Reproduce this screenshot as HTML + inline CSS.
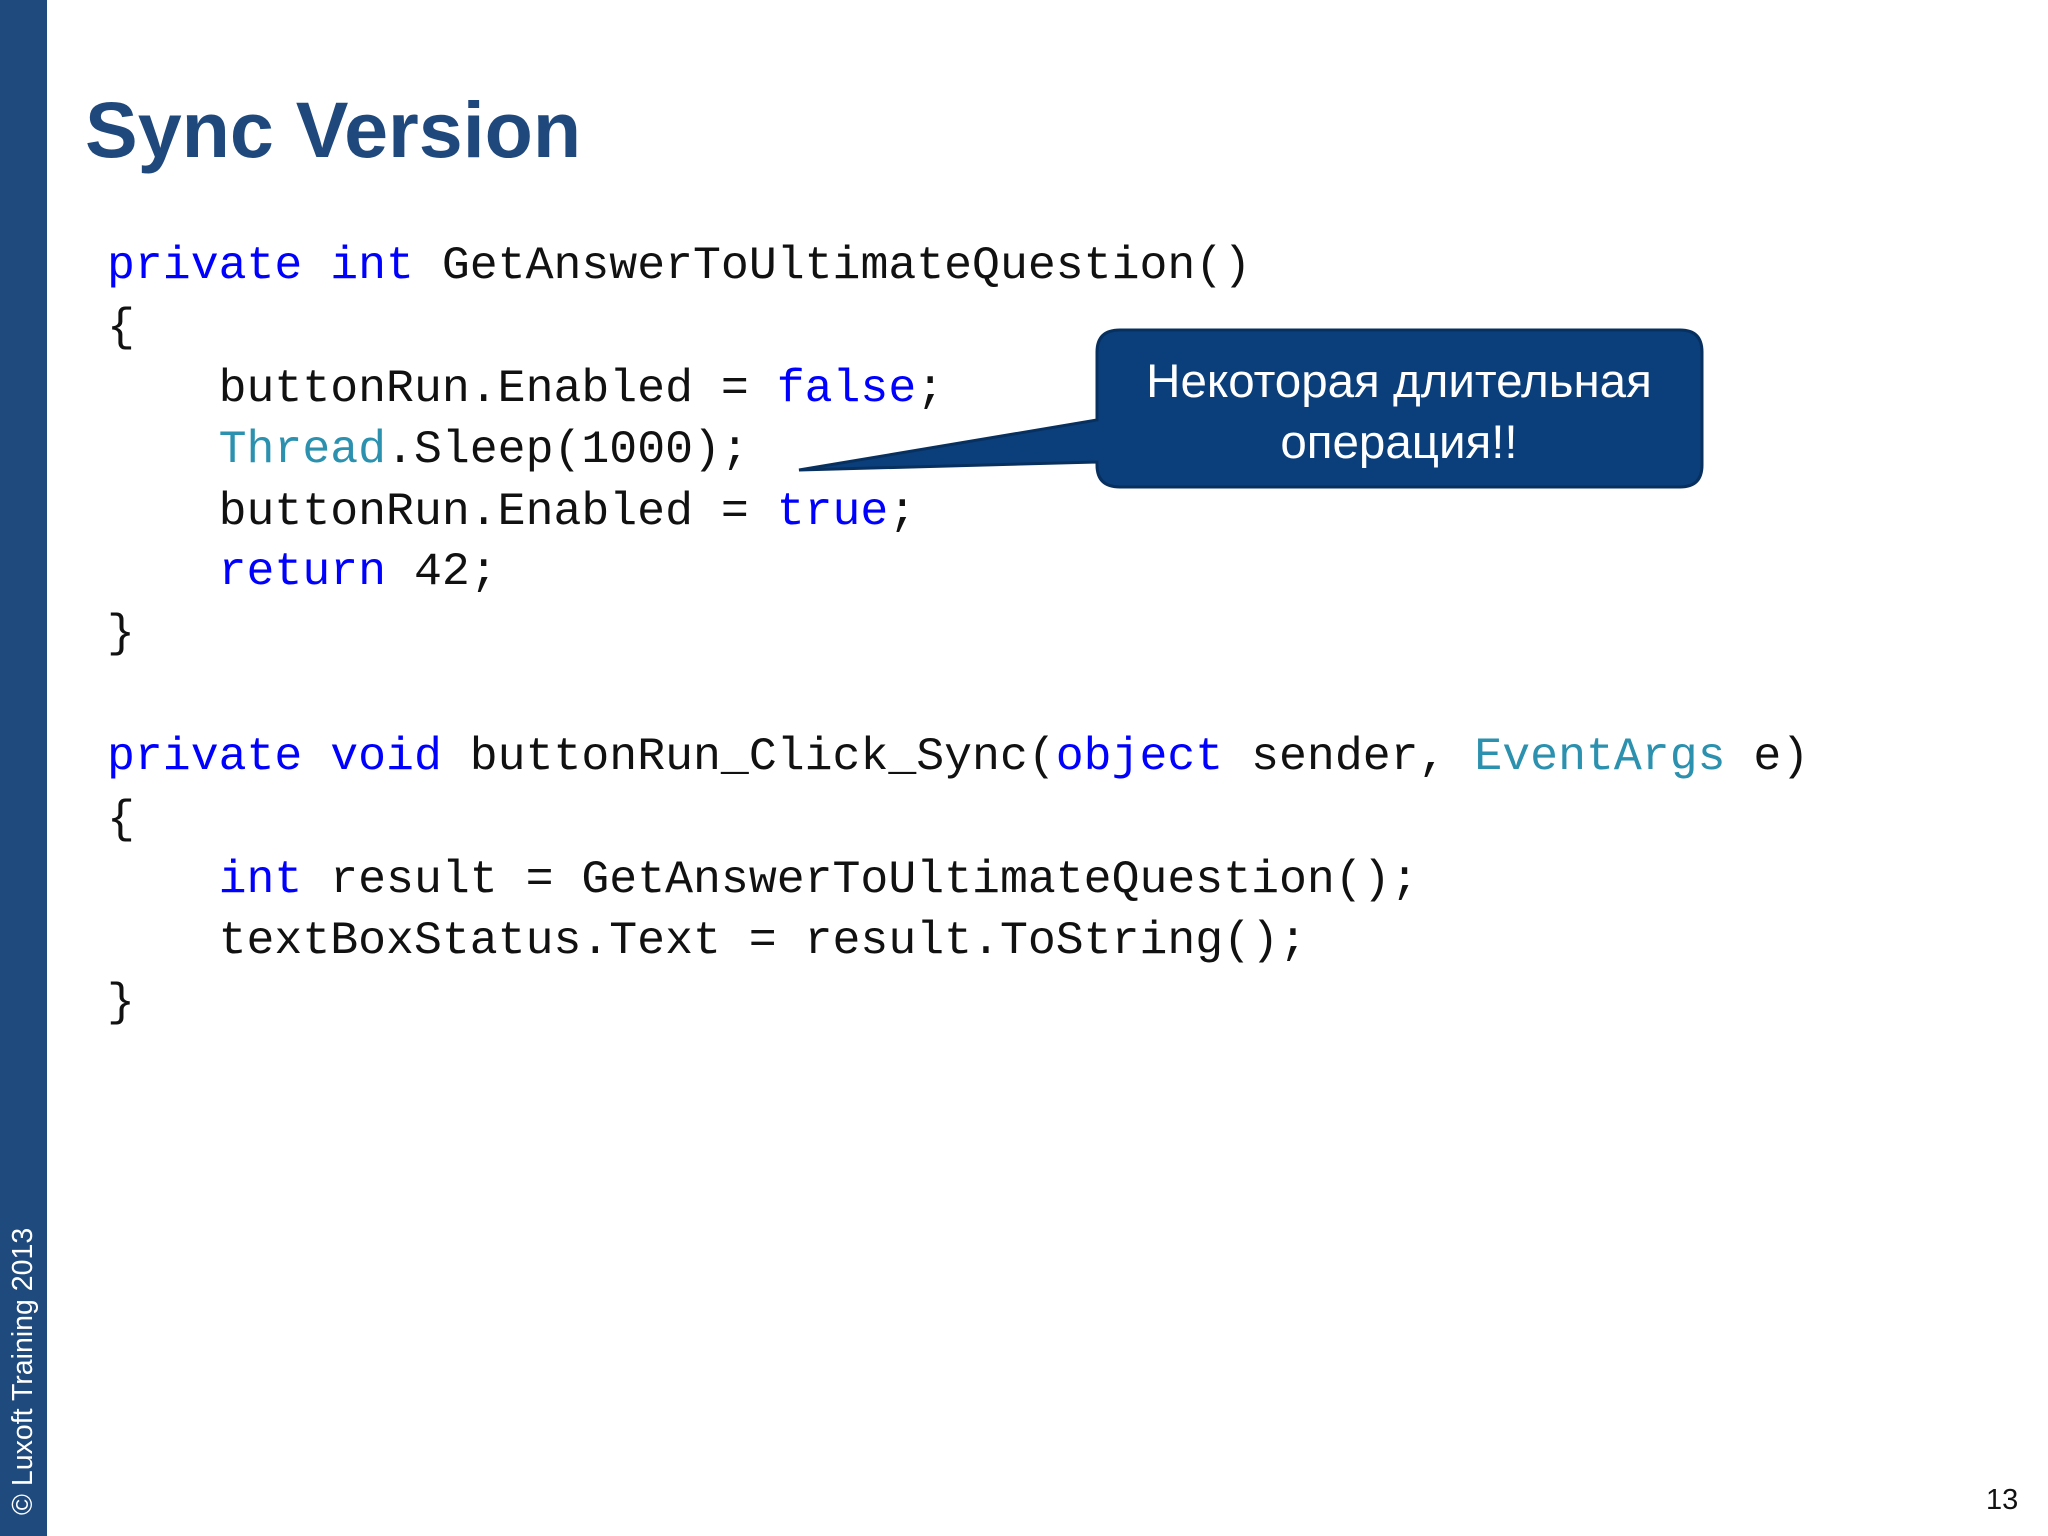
<!DOCTYPE html>
<html><head><meta charset="utf-8"><style>
body{margin:0;width:2048px;height:1536px;background:#fff;position:relative;overflow:hidden;font-family:"Liberation Sans",sans-serif}
.bar{position:absolute;left:0;top:0;width:47px;height:1536px;background:#1f4a7e}
.vt{position:absolute;left:23px;top:1515px;transform-origin:0 0;transform:rotate(-90deg) translate(0,-16px);color:#fff;font-size:28.5px;white-space:nowrap}
h1{position:absolute;left:85px;top:90px;margin:0;font-size:79px;font-weight:bold;color:#1f497d;line-height:1}
.c{position:absolute;left:107px;font-family:"Liberation Mono",monospace;font-size:46.5px;line-height:61px;height:61px;white-space:pre;color:#111}
.k{color:#0000ff}.t{color:#2b91af}
.num{position:absolute;left:1986px;top:1484px;font-size:29px;color:#111}
</style></head><body>
<div class="bar"></div>
<div class="vt">© Luxoft Training 2013</div>
<h1>Sync Version</h1>
<div class="c" style="top:235px"><span class="k">private</span> <span class="k">int</span> GetAnswerToUltimateQuestion()</div>
<div class="c" style="top:297px">{</div>
<div class="c" style="top:358px">    buttonRun.Enabled = <span class="k">false</span>;</div>
<div class="c" style="top:419px">    <span class="t">Thread</span>.Sleep(1000);</div>
<div class="c" style="top:481px">    buttonRun.Enabled = <span class="k">true</span>;</div>
<div class="c" style="top:541px">    <span class="k">return</span> 42;</div>
<div class="c" style="top:603px">}</div>
<div class="c" style="top:726px"><span class="k">private</span> <span class="k">void</span> buttonRun_Click_Sync(<span class="k">object</span> sender, <span class="t">EventArgs</span> e)</div>
<div class="c" style="top:789px">{</div>
<div class="c" style="top:849px">    <span class="k">int</span> result = GetAnswerToUltimateQuestion();</div>
<div class="c" style="top:910px">    textBoxStatus.Text = result.ToString();</div>
<div class="c" style="top:972px">}</div>
<svg style="position:absolute;left:0;top:0" width="2048" height="1536">
<path d="M1120,330 H1680 Q1702,330 1702,352 V465 Q1702,487 1680,487 H1120 Q1097,487 1097,465 V462 L799,470 L1097,420 V352 Q1097,330 1120,330 Z" fill="#0b3f7c" stroke="#08305f" stroke-width="3"/>
<text x="1399" y="397" fill="#fff" font-family="Liberation Sans, sans-serif" font-size="47.5" text-anchor="middle">Некоторая длительная</text>
<text x="1399" y="458" fill="#fff" font-family="Liberation Sans, sans-serif" font-size="47.5" text-anchor="middle">операция!!</text>
</svg>
<div class="num">13</div>
</body></html>
